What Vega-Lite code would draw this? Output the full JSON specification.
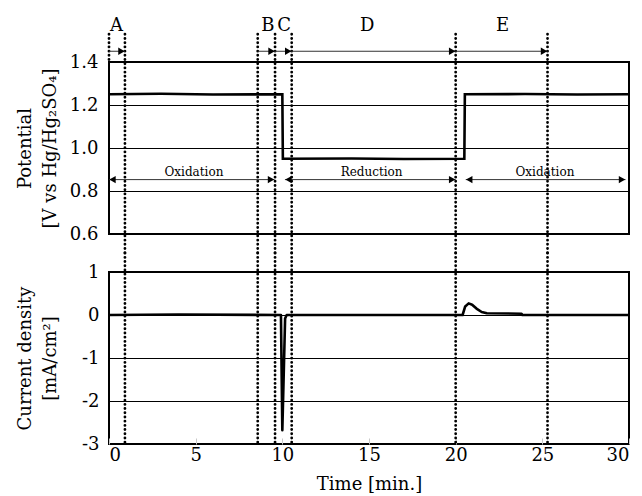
{
  "$schema": "https://vega.github.io/schema/vega-lite/v6.json",
  "padding": {"left": 15, "top": 16, "right": 0, "bottom": 0},
  "spacing": 38,
  "bounds": "flush",
  "datasets": {
    "potential": [
      {"t": 0, "v": 1.25}, {"t": 3, "v": 1.252}, {"t": 6, "v": 1.249}, {"t": 10.0, "v": 1.25},
      {"t": 10.03, "v": 0.95}, {"t": 14, "v": 0.951}, {"t": 17, "v": 0.949}, {"t": 20.5, "v": 0.95},
      {"t": 20.53, "v": 1.25}, {"t": 24, "v": 1.251}, {"t": 27, "v": 1.249}, {"t": 30, "v": 1.25}
    ],
    "current": [
      {"t": 0, "i": 0}, {"t": 4, "i": 0.01}, {"t": 9.92, "i": 0}, {"t": 10.0, "i": -2.68},
      {"t": 10.16, "i": -0.08}, {"t": 10.25, "i": 0}, {"t": 20.4, "i": 0}, {"t": 20.55, "i": 0.2},
      {"t": 20.75, "i": 0.27}, {"t": 20.95, "i": 0.24}, {"t": 21.2, "i": 0.15}, {"t": 21.5, "i": 0.07},
      {"t": 21.8, "i": 0.04}, {"t": 23.8, "i": 0.03}, {"t": 23.85, "i": 0}, {"t": 30, "i": 0}
    ],
    "boundaries": [
      {"t": 0, "full": false}, {"t": 0.92, "full": true}, {"t": 8.58, "full": true},
      {"t": 9.58, "full": true}, {"t": 10.54, "full": true}, {"t": 20.0, "full": true}, {"t": 25.3, "full": true}
    ],
    "phases": [
      {"phase": "A", "start": 0, "end": 0.92, "mid": 0.43},
      {"phase": "B", "start": 8.58, "end": 9.58, "mid": 9.17},
      {"phase": "C", "start": 9.58, "end": 10.54, "mid": 10.1},
      {"phase": "D", "start": 10.54, "end": 20.0, "mid": 14.9},
      {"phase": "E", "start": 20.0, "end": 25.3, "mid": 22.7}
    ],
    "processes": [
      {"process": "Oxidation", "start": 0, "end": 9.55, "mid": 4.9},
      {"process": "Reduction", "start": 10.15, "end": 20.0, "mid": 15.15},
      {"process": "Oxidation", "start": 20.58, "end": 29.8, "mid": 25.15}
    ]
  },
  "vconcat": [
    {
      "width": 520,
      "height": 172,
      "layer": [
        {
          "data": {"name": "potential"},
          "mark": {"type": "line", "color": "black", "strokeWidth": 2.6, "strokeJoin": "miter"},
          "encoding": {
            "x": {"field": "t", "type": "quantitative", "scale": {"domain": [0, 30], "nice": false}, "axis": null},
            "y": {"field": "v", "type": "quantitative", "scale": {"domain": [0.6, 1.4], "nice": false, "zero": false},
              "axis": {"values": [0.6, 0.8, 1.0, 1.2, 1.4], "format": ".1f", "labelPadding": 11,
                "title": ["Potential", "[V vs Hg/Hg₂SO₄]"], "titlePadding": 10, "titleLineHeight": 25}}
          }
        },
        {
          "data": {"name": "boundaries"},
          "transform": [{"filter": "datum.full"}],
          "mark": {"type": "rule", "color": "black", "strokeWidth": 2.8, "strokeDash": [0.1, 4.1], "strokeCap": "round", "clip": false},
          "encoding": {
            "x": {"field": "t", "type": "quantitative"},
            "y": {"datum": 1.529},
            "y2": {"datum": 0.51}
          }
        },
        {
          "data": {"name": "boundaries"},
          "transform": [{"filter": "!datum.full"}],
          "mark": {"type": "rule", "color": "black", "strokeWidth": 2.8, "strokeDash": [0.1, 4.1], "strokeCap": "round", "clip": false},
          "encoding": {
            "x": {"field": "t", "type": "quantitative"},
            "y": {"datum": 1.529},
            "y2": {"datum": 1.4}
          }
        },
        {
          "data": {"name": "phases"},
          "mark": {"type": "rule", "color": "#333", "strokeWidth": 1, "clip": false},
          "encoding": {
            "x": {"field": "start", "type": "quantitative"},
            "x2": {"field": "end"},
            "y": {"datum": 1.45}
          }
        },
        {
          "data": {"name": "phases"},
          "mark": {"type": "point", "shape": "triangle-right", "filled": true, "color": "black", "opacity": 1, "size": 55, "clip": false},
          "encoding": {
            "x": {"field": "end", "type": "quantitative"},
            "xOffset": {"value": -3.5},
            "y": {"datum": 1.45}
          }
        },
        {
          "data": {"name": "phases"},
          "mark": {"type": "text", "font": "DejaVu Serif", "fontSize": 18, "color": "black", "baseline": "alphabetic", "clip": false},
          "encoding": {
            "x": {"field": "mid", "type": "quantitative"},
            "y": {"datum": 1.543},
            "text": {"field": "phase"}
          }
        },
        {
          "data": {"name": "processes"},
          "mark": {"type": "rule", "color": "#333", "strokeWidth": 1},
          "encoding": {
            "x": {"field": "start", "type": "quantitative"},
            "x2": {"field": "end"},
            "y": {"datum": 0.853}
          }
        },
        {
          "data": {"name": "processes"},
          "mark": {"type": "point", "shape": "triangle-right", "filled": true, "color": "black", "opacity": 1, "size": 55},
          "encoding": {
            "x": {"field": "end", "type": "quantitative"},
            "xOffset": {"value": -3.5},
            "y": {"datum": 0.853}
          }
        },
        {
          "data": {"name": "processes"},
          "mark": {"type": "point", "shape": "triangle-left", "filled": true, "color": "black", "opacity": 1, "size": 55, "clip": false},
          "encoding": {
            "x": {"field": "start", "type": "quantitative"},
            "xOffset": {"value": 3.5},
            "y": {"datum": 0.853}
          }
        },
        {
          "data": {"name": "processes"},
          "mark": {"type": "text", "font": "DejaVu Serif", "fontSize": 12, "color": "black", "baseline": "alphabetic"},
          "encoding": {
            "x": {"field": "mid", "type": "quantitative"},
            "y": {"datum": 0.872},
            "text": {"field": "process"}
          }
        }
      ]
    },
    {
      "width": 520,
      "height": 172,
      "layer": [
        {
          "data": {"name": "current"},
          "mark": {"type": "line", "color": "black", "strokeWidth": 2.6, "strokeJoin": "round"},
          "encoding": {
            "x": {"field": "t", "type": "quantitative", "scale": {"domain": [0, 30], "nice": false},
              "axis": {"values": [0, 5, 10, 15, 20, 25, 30], "grid": false, "ticks": true, "tickSize": -6, "tickColor": "#c8c8c8", "tickWidth": 1, "labelPadding": 8, "title": "Time [min.]", "titlePadding": 11}},
            "y": {"field": "i", "type": "quantitative", "scale": {"domain": [-3, 1], "nice": false, "zero": false},
              "axis": {"values": [-3, -2, -1, 0, 1], "labelExpr": "'' + datum.value", "labelPadding": 10,
                "title": ["Current density", "[mA/cm²]"], "titlePadding": 22, "titleLineHeight": 25}}
          }
        },
        {
          "data": {"name": "boundaries"},
          "transform": [{"filter": "datum.full"}],
          "mark": {"type": "rule", "color": "black", "strokeWidth": 2.8, "strokeDash": [0.1, 4.1], "strokeCap": "round", "clip": false},
          "encoding": {
            "x": {"field": "t", "type": "quantitative"},
            "y": {"datum": 1.44},
            "y2": {"datum": -3}
          }
        }
      ]
    }
  ],
  "config": {
    "font": "DejaVu Serif",
    "view": {"stroke": "black", "strokeWidth": 2},
    "axis": {
      "labelFont": "DejaVu Serif", "labelFontSize": 18, "labelColor": "black",
      "titleFont": "DejaVu Serif", "titleFontSize": 18, "titleFontWeight": "normal", "titleColor": "black",
      "grid": true, "gridColor": "black", "gridWidth": 1, "gridOpacity": 1,
      "domain": false, "ticks": false
    }
  }
}
